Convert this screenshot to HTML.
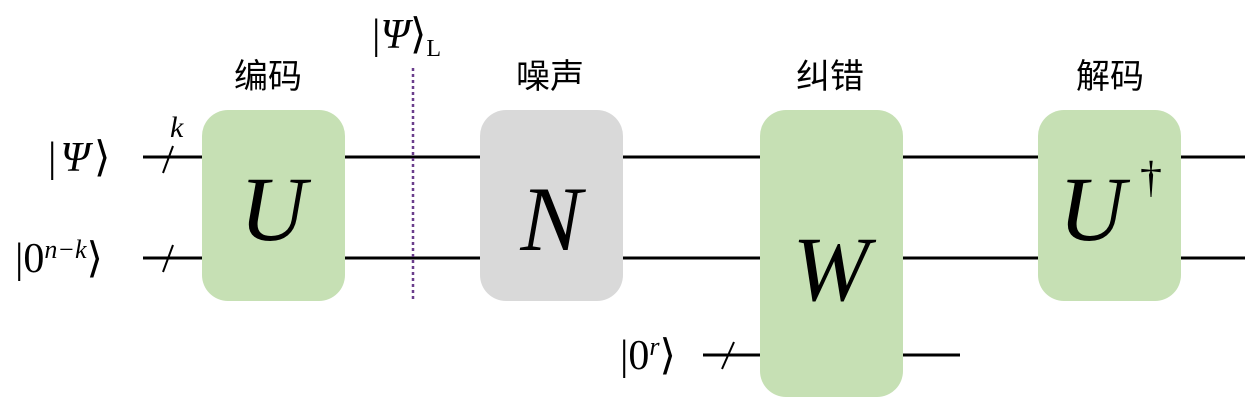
<!DOCTYPE html>
<html><head><meta charset="utf-8"><style>
html,body{margin:0;padding:0;background:#fff;width:1260px;height:406px;overflow:hidden}
svg text{font-family:"Liberation Serif","Noto Serif CJK SC",serif;fill:#000}
.cjk{font-family:"Liberation Sans","Noto Sans CJK SC",sans-serif;font-size:34px}
.cal{font-family:"Liberation Serif",serif;font-style:italic;font-size:92px}
</style></head><body>
<svg width="1260" height="406" viewBox="0 0 1260 406" xmlns="http://www.w3.org/2000/svg">
<g stroke="#000" stroke-width="3">
<line x1="143" y1="157" x2="1245" y2="157"/>
<line x1="143" y1="258" x2="1245" y2="258"/>
<line x1="703" y1="355" x2="960" y2="355"/>
<line x1="163" y1="173" x2="173" y2="146" stroke-width="2"/>
<line x1="163" y1="272" x2="173" y2="245" stroke-width="2"/>
<line x1="722" y1="369" x2="734" y2="342" stroke-width="2"/>
</g>
<line x1="413" y1="68" x2="413" y2="300" stroke="#6a3d8c" stroke-width="2.5" stroke-dasharray="3,3"/>
<rect x="202" y="110" width="143" height="191" rx="26" fill="#c6e0b4"/>
<rect x="480" y="110" width="143" height="191" rx="26" fill="#d9d9d9"/>
<rect x="760" y="110" width="143" height="287" rx="26" fill="#c6e0b4"/>
<rect x="1038" y="110" width="143" height="191" rx="26" fill="#c6e0b4"/>
<text class="cjk" x="268" y="88" text-anchor="middle">编码</text>
<text class="cjk" x="550" y="88" text-anchor="middle">噪声</text>
<text class="cjk" x="830" y="88" text-anchor="middle">纠错</text>
<text class="cjk" x="1110" y="88" text-anchor="middle">解码</text>
<text class="cal" x="273" y="240" text-anchor="middle">U</text>
<text class="cal" x="551" y="250" text-anchor="middle">N</text>
<text class="cal" x="831" y="300" text-anchor="middle">W</text>
<text class="cal" x="1092" y="240" text-anchor="middle">U</text>
<text x="1140" y="192" font-size="44">†</text>
<text x="48" y="171" font-size="42" letter-spacing="4">|<tspan font-style="italic">Ψ</tspan>⟩</text>
<text x="170" y="137" font-size="30" font-style="italic">k</text>
<text x="15" y="272" font-size="42">|0<tspan font-size="26" dy="-14" font-style="italic">n−k</tspan><tspan dy="14">⟩</tspan></text>
<text x="620" y="369" font-size="42">|0<tspan font-size="26" dy="-14" font-style="italic">r</tspan><tspan dy="14">⟩</tspan></text>
<text x="372" y="48" font-size="42">|<tspan font-style="italic">Ψ</tspan>⟩<tspan font-size="24" dy="8">L</tspan></text>
</svg>
</body></html>
